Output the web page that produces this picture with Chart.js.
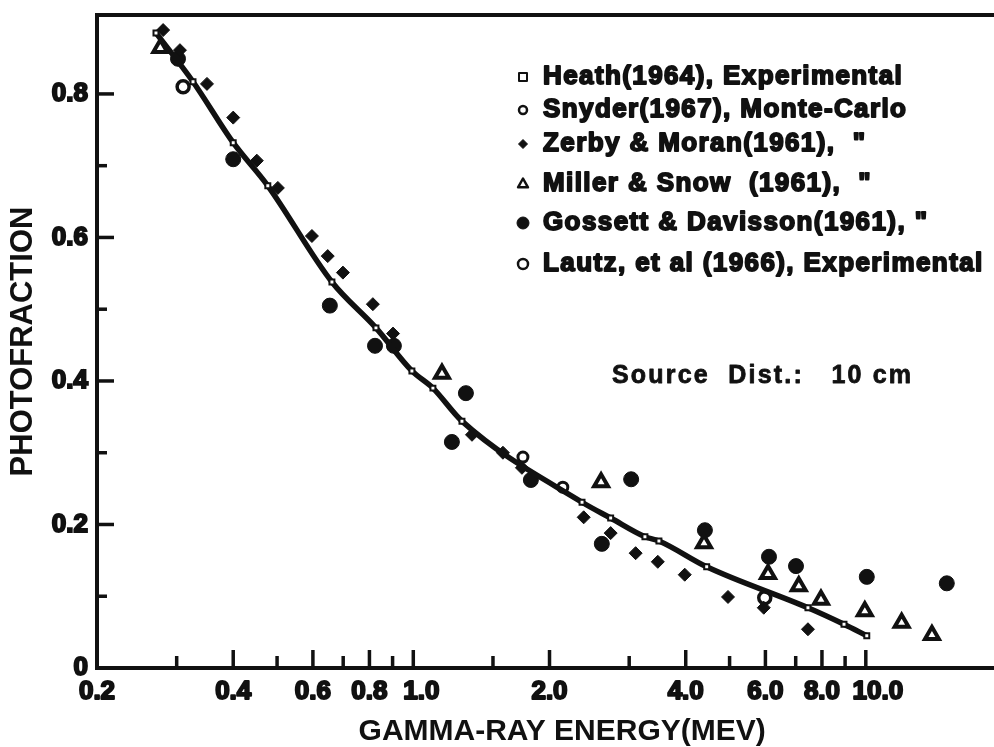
<!DOCTYPE html>
<html>
<head>
<meta charset="utf-8">
<title>Photofraction vs gamma-ray energy</title>
<script src="https://cdn.jsdelivr.net/npm/chart.js@4.4.1/dist/chart.umd.min.js"></script>
<style>
  html, body { margin: 0; padding: 0; background: #fff; overflow: hidden; }
  #wrap { width: 994px; height: 747px; }
  canvas { display: block; }
</style>
</head>
<body>
<div id="wrap"><canvas id="photo-chart" width="994" height="747"></canvas></div>
<script>
// energies in MeV, photofraction as a fraction of 1
const heathEnergy   = [0.27, 0.326, 0.40, 0.477, 0.661, 0.827, 0.993, 1.105, 1.281, 2.36, 2.73, 3.25, 3.49, 4.45, 7.45, 8.95, 10.05];
const heathFraction = [0.885, 0.817, 0.732, 0.672, 0.538, 0.474, 0.414, 0.390, 0.344, 0.231, 0.209, 0.183, 0.177, 0.141, 0.084, 0.061, 0.045];

const snyderEnergy   = [1.747, 2.14];
const snyderFraction = [0.294, 0.252];

const zerbyEnergy   = [0.280, 0.305, 0.350, 0.400, 0.451, 0.502, 0.597, 0.647, 0.699, 0.814, 0.902, 1.348, 1.578, 1.738, 2.38, 2.73, 3.10, 3.47, 3.98, 4.96, 5.95, 7.45];
const zerbyFraction = [0.889, 0.861, 0.814, 0.767, 0.707, 0.669, 0.602, 0.574, 0.551, 0.507, 0.466, 0.325, 0.300, 0.279, 0.210, 0.188, 0.160, 0.148, 0.130, 0.099, 0.084, 0.054];

const millerEnergy   = [0.276, 1.157, 2.60, 4.39, 6.08, 7.11, 7.96, 9.95, 12.0, 14.0];
const millerFraction = [0.864, 0.410, 0.259, 0.174, 0.131, 0.114, 0.095, 0.079, 0.063, 0.046];

const gossettEnergy   = [0.302, 0.400, 0.654, 0.823, 0.906, 1.217, 1.307, 1.819, 2.61, 3.03, 4.41, 6.11, 7.01, 10.05, 15.1];
const gossettFraction = [0.849, 0.709, 0.505, 0.449, 0.449, 0.315, 0.383, 0.262, 0.173, 0.263, 0.192, 0.155, 0.142, 0.127, 0.118];

const lautzEnergy   = [0.310, 5.98];
const lautzFraction = [0.810, 0.098];

const xLabelTicks = [0.2, 0.4, 0.6, 0.8, 1, 2, 4, 6, 8, 10];
const xTickLabels = ['0.2', '0.4', '0.6', '0.8', '1.0', '2.0', '4.0', '6.0', '8.0', '10.0'];
const xMajorMarks = [0.4, 0.6, 0.8, 1, 2, 4, 6, 8, 10];
const xMinorMarks = [0.3, 0.5, 0.7, 0.9, 1.5, 3, 5, 7, 9];

const yLabelTicks = [0, 0.2, 0.4, 0.6, 0.8];
const yTickLabels = ['0', '0.2', '0.4', '0.6', '0.8'];
const yMajorMarks = [0.2, 0.4, 0.6, 0.8];
const yMinorMarks = [0.1, 0.3, 0.5, 0.7];

const INK = '#111';
const FONT = '"Liberation Sans", Arial, sans-serif';

// labels starting with a 1 sit a little right of their tick
const xLabelNudge = { '1.0': 8, '10.0': 12 };

const toPoints = (xs, ys) => xs.map((x, i) => ({ x: x, y: ys[i] }));

const datasets = [
  {
    label: 'Heath(1964), Experimental',
    data: toPoints(heathEnergy, heathFraction),
    showLine: true,
    borderColor: INK,
    borderWidth: 5.5,
    cubicInterpolationMode: 'monotone',
    pointStyle: 'rect',
    pointRadius: 3.5,
    pointBorderWidth: 2,
    pointBackgroundColor: '#fff',
    pointBorderColor: INK,
    legendRadius: 4,
  },
  {
    label: 'Snyder(1967), Monte-Carlo',
    data: toPoints(snyderEnergy, snyderFraction),
    pointStyle: 'circle',
    pointRadius: 5,
    pointBorderWidth: 3,
    pointBackgroundColor: '#fff',
    pointBorderColor: INK,
    legendRadius: 4,
  },
  {
    label: 'Zerby & Moran(1961),  "',
    data: toPoints(zerbyEnergy, zerbyFraction),
    pointStyle: 'rectRot',
    pointRadius: 6.5,
    pointBorderWidth: 1,
    pointBackgroundColor: INK,
    pointBorderColor: INK,
    legendRadius: 4.5,
  },
  {
    label: 'Miller & Snow  (1961),  "',
    data: toPoints(millerEnergy, millerFraction),
    pointStyle: 'triangle',
    pointRadius: 8,
    pointBorderWidth: 4,
    pointBackgroundColor: '#fff',
    pointBorderColor: INK,
    legendRadius: 5.5,
  },
  {
    label: 'Gossett & Davisson(1961), "',
    data: toPoints(gossettEnergy, gossettFraction),
    pointStyle: 'circle',
    pointRadius: 7.5,
    pointBorderWidth: 1,
    pointBackgroundColor: INK,
    pointBorderColor: INK,
    legendRadius: 6,
  },
  {
    label: 'Lautz, et al (1966), Experimental',
    data: toPoints(lautzEnergy, lautzFraction),
    pointStyle: 'circle',
    pointRadius: 6,
    pointBorderWidth: 3.5,
    pointBackgroundColor: '#fff',
    pointBorderColor: INK,
    legendRadius: 5,
  },
];

// key rows drawn inside the plot, top right
const legendRowsY = [77, 110, 144, 184, 223, 264];

function drawMarker(ctx, ds, x, y, r) {
  ctx.save();
  ctx.fillStyle = ds.pointBackgroundColor;
  ctx.strokeStyle = ds.pointBorderColor;
  ctx.lineWidth = Math.min(ds.pointBorderWidth, 2.5);
  ctx.beginPath();
  if (ds.pointStyle === 'rect') {
    ctx.rect(x - r, y - r, 2 * r, 2 * r);
  } else if (ds.pointStyle === 'rectRot') {
    ctx.moveTo(x, y - r); ctx.lineTo(x + r, y); ctx.lineTo(x, y + r); ctx.lineTo(x - r, y); ctx.closePath();
  } else if (ds.pointStyle === 'triangle') {
    ctx.moveTo(x, y - r); ctx.lineTo(x + r * 0.9, y + r * 0.6); ctx.lineTo(x - r * 0.9, y + r * 0.6); ctx.closePath();
  } else {
    ctx.arc(x, y, r, 0, Math.PI * 2);
  }
  ctx.fill();
  ctx.stroke();
  ctx.restore();
}

function heavyText(ctx, text, x, y, size, spacing, stroke, align) {
  ctx.font = 'bold ' + size + 'px ' + FONT;
  ctx.letterSpacing = spacing + 'px';
  ctx.textBaseline = 'middle';
  ctx.textAlign = align || 'left';
  ctx.fillStyle = INK;
  ctx.strokeStyle = INK;
  ctx.lineWidth = stroke;
  ctx.lineJoin = 'round';
  if (stroke > 0) ctx.strokeText(text, x, y);
  ctx.fillText(text, x, y);
}

const frameAndNotes = {
  id: 'frameAndNotes',
  afterDraw(chart) {
    const { ctx, chartArea, scales: { x, y } } = chart;
    const top = y.getPixelForValue(y.max);
    ctx.save();
    ctx.strokeStyle = INK;
    ctx.lineWidth = 4;
    ctx.lineCap = 'butt';

    // top edge of the frame
    ctx.beginPath();
    ctx.moveTo(chartArea.left - 2, top);
    ctx.lineTo(chartArea.right, top);
    ctx.stroke();

    // tick marks point into the plot
    ctx.lineWidth = 3.5;
    const vTick = (v, len) => {
      const px = x.getPixelForValue(v);
      ctx.beginPath();
      ctx.moveTo(px, chartArea.bottom);
      ctx.lineTo(px, chartArea.bottom - len);
      ctx.stroke();
    };
    const hTick = (v, len) => {
      const py = y.getPixelForValue(v);
      ctx.beginPath();
      ctx.moveTo(chartArea.left, py);
      ctx.lineTo(chartArea.left + len, py);
      ctx.stroke();
    };
    xMajorMarks.forEach(v => vTick(v, 18));
    xMinorMarks.forEach(v => vTick(v, 12));
    yMajorMarks.forEach(v => hTick(v, 17));
    yMinorMarks.forEach(v => hTick(v, 10));

    // energy labels under the axis
    xLabelTicks.forEach((v, i) => {
      const text = xTickLabels[i];
      const px = x.getPixelForValue(v) + (xLabelNudge[text] || 0);
      heavyText(ctx, text, px, chartArea.bottom + 24, 26, 0, 2, 'center');
    });

    // key
    chart.data.datasets.forEach((ds, i) => {
      const ry = legendRowsY[i];
      drawMarker(ctx, ds, 523, ry, ds.legendRadius);
      heavyText(ctx, ds.label, 543, ry, 26, 1.4, 1.8);
    });

    heavyText(ctx, 'Source  Dist.:   10 cm', 612, 376, 25, 2.2, 0.8);
    ctx.restore();
  }
};

const tickFont = { family: FONT, size: 26, weight: 'bold' };

new Chart(document.getElementById('photo-chart'), {
  type: 'scatter',
  data: { datasets: datasets },
  options: {
    responsive: false,
    animation: false,
    layout: { autoPadding: false, padding: { top: 15, right: 0, bottom: 0, left: 0 } },
    plugins: {
      legend: { display: false },
      tooltip: { enabled: false },
    },
    scales: {
      x: {
        type: 'logarithmic',
        min: 0.2,
        max: 19.2,
        afterFit: (s) => { s.height = 79; s.paddingLeft = 0; s.paddingRight = 0; },
        afterBuildTicks: (s) => { s.ticks = xLabelTicks.map(v => ({ value: v })); },
        grid: { display: false, drawTicks: false },
        border: { display: true, width: 4, color: INK },
        ticks: { display: false },
        title: {
          display: true,
          text: '\u00a0\u00a0\u00a0\u00a0GAMMA-RAY ENERGY(MEV)',
          color: INK,
          font: { family: FONT, size: 30, weight: 'bold', lineHeight: 1 },
          padding: 0,
        },
      },
      y: {
        min: 0,
        max: 0.91,
        afterFit: (s) => { s.width = 97; s.paddingTop = 0; s.paddingBottom = 0; },
        afterBuildTicks: (s) => { s.ticks = yLabelTicks.map(v => ({ value: v })); },
        grid: { display: false, drawTicks: false },
        border: { display: true, width: 4, color: INK },
        ticks: {
          padding: 9,
          color: INK,
          font: tickFont,
          textStrokeColor: INK,
          textStrokeWidth: 2,
          callback: (v, i) => yTickLabels[i],
        },
        title: {
          display: true,
          text: 'PHOTOFRACTION',
          color: INK,
          font: { family: FONT, size: 31, weight: 'bold', lineHeight: 1 },
          padding: { top: 8, bottom: 0 },
        },
      },
    },
  },
  plugins: [frameAndNotes],
});
</script>
</body>
</html>
